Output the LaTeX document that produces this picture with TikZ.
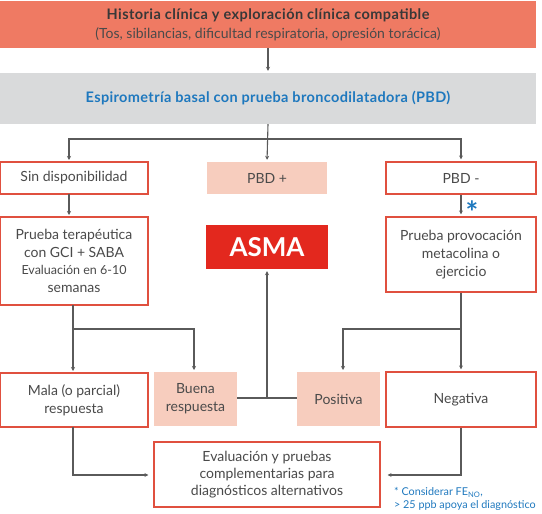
\documentclass[tikz,border=0pt]{standalone}
\usepackage{fontspec}
\setmainfont{Lato}
\usetikzlibrary{arrows.meta}
\definecolor{headfill}{HTML}{EF7A63}
\definecolor{greyfill}{HTML}{D9DADB}
\definecolor{blueink}{HTML}{1E78BE}
\definecolor{redline}{HTML}{E0503F}
\definecolor{softfill}{HTML}{F7CDBE}
\definecolor{asmared}{HTML}{E3281E}
\definecolor{lineink}{HTML}{5A5A5A}
\definecolor{textink}{HTML}{4A4A4A}
\definecolor{darkink}{HTML}{383838}
\tikzset{
  x=1pt, y=-1pt,
  box/.style={draw=redline, line width=1.1pt, fill=white, text=textink, align=center,
    inner sep=0pt, font=\fontsize{14}{18}\selectfont},
  softbox/.style={fill=softfill, text=textink, align=center, inner sep=0pt,
    font=\fontsize{14}{18}\selectfont},
  conn/.style={draw=lineink, line width=1.1pt},
  arr/.style={conn, -{Stealth[length=4pt,width=4pt]}, shorten >=2pt},
}
\begin{document}
\begin{tikzpicture}
\useasboundingbox (0,0) rectangle (542,514);

% header boxes
\node[fill=headfill, minimum width=536pt, minimum height=47pt, inner sep=0pt, align=center,
  text=textink, font=\fontsize{14}{19}\selectfont] (top) at (268,24.5)
  {{\color{darkink}\fontsize{14.5}{19}\selectfont\bfseries\addfontfeature{LetterSpace=3}Historia clínica y exploración clínica compatible}\\
   (Tos, sibilancias, dificultad respiratoria, opresión torácica)};
\node[fill=greyfill, minimum width=536pt, minimum height=51pt, inner sep=0pt,
  text=blueink, font=\fontsize{14.5}{15}\selectfont\bfseries\addfontfeature{LetterSpace=2.5}] (spiro) at (268,98.5)
  {Espirometría basal con prueba broncodilatadora (PBD)};

% second row
\node[box, minimum width=148pt, minimum height=32pt] (sind) at (74,178) {Sin disponibilidad};
\node[softbox, minimum width=120pt, minimum height=32pt] (pbdp) at (267,178) {PBD +};
\node[box, minimum width=150pt, minimum height=32pt] (pbdm) at (461,178) {PBD -};

% third row
\node[box, minimum width=148pt, minimum height=88pt] (pter) at (74,261)
  {Prueba terapéutica\\con GCI + SABA\\[-1pt]
   \fontsize{12.5}{16}\selectfont Evaluación en 6-10\\semanas};
\node[fill=asmared, minimum width=122pt, minimum height=44pt, inner sep=0pt,
  text=white, font=\fontsize{26}{26}\selectfont\bfseries] (asma) at (267,247) {ASMA};
\node[box, minimum width=150pt, minimum height=75pt] (pprov) at (461,254.5)
  {Prueba provocación\\metacolina o\\ejercicio};

% fourth row
\node[box, minimum width=148pt, minimum height=54pt] (mala) at (74,400)
  {Mala (o parcial)\\respuesta};
\node[softbox, minimum width=83pt, minimum height=54pt] (buena) at (195.5,399)
  {Buena\\respuesta};
\node[softbox, minimum width=83pt, minimum height=54pt] (posi) at (338.5,399) {Positiva};
\node[box, minimum width=150pt, minimum height=55pt] (nega) at (461,399.5) {Negativa};

% final box
\node[box, minimum width=226pt, minimum height=65pt, font=\fontsize{14}{17}\selectfont] (eval) at (267,474.5)
  {Evaluación y pruebas\\complementarias para\\diagnósticos alternativos};

% footnote
\node[anchor=north west, inner sep=0pt, align=left, text=blueink,
  font=\fontsize{10.8}{13.5}\selectfont] (note) at (394,487)
  {* Considerar FE\textsubscript{NO},\\> 25 ppb apoya el diagnóstico};
\node[text=blueink, inner sep=0pt, font=\fontsize{30}{30}\selectfont\bfseries] (star) at (472,212) {*};

% junction points
\coordinate (split) at (267,139);
\coordinate (lsplit) at (73,329);
\coordinate (rsplit) at (461,329);
\coordinate (mid) at (267,398);

% connectors
\draw[arr] (top.south) -- (spiro.north);
\draw[arr] (spiro.south) -- (pbdp.north);
\draw[arr] (split) -| (69,162);
\draw[arr] (split) -| (pbdm.north);
\draw[arr] (69,194) -- (69,217);
\draw[arr] (pbdm.south) -- (pprov.north);

\draw[conn] (73,305) -- (lsplit);
\draw[arr] (lsplit) -- (73,373);
\draw[arr] (lsplit) -| (194,372);

\draw[conn] (pprov.south) -- (rsplit);
\draw[arr] (rsplit) -- (nega.north);
\draw[arr] (rsplit) -| (343,372);

\draw[conn] (buena.east |- mid) -- (mid);
\draw[conn] (posi.west |- mid) -- (mid);
\draw[arr] (mid) -- (asma.south);

\draw[arr, shorten >=5pt] (73,427) |- (eval.west |- 0,475);
\draw[arr, shorten >=7pt] (nega.south) |- (eval.east |- 0,475);
\end{tikzpicture}
\end{document}
